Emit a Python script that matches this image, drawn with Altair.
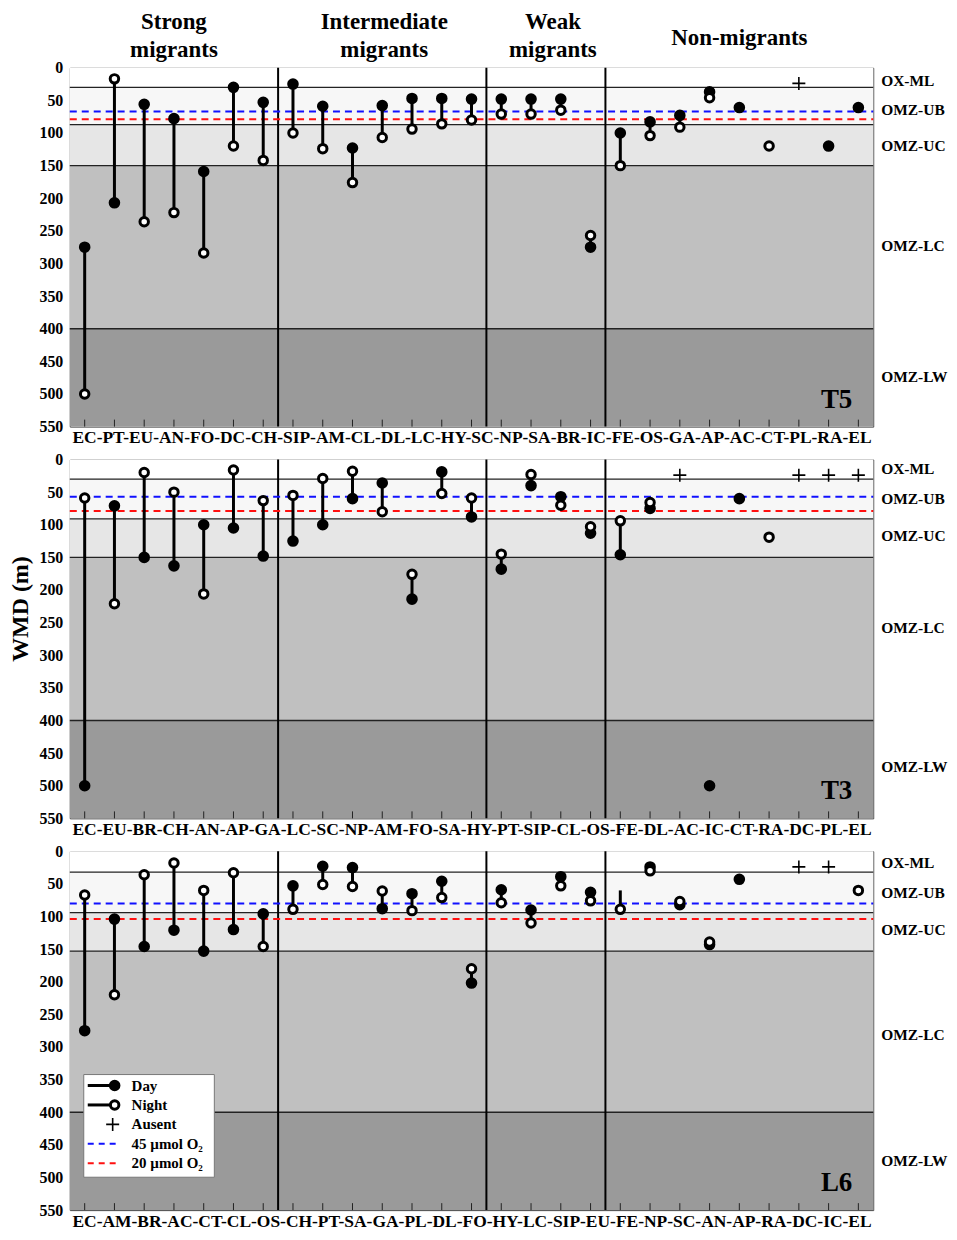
import altair as alt
import pandas as pd

FONT = "Liberation Serif"
W, H = 806, 360

# ---------------- data ----------------
group_titles = [["Strong", "migrants"], ["Intermediate", "migrants"], ["Weak", "migrants"], ["Non-migrants"]]
group_sizes = [7, 7, 4, 9]

zone_names = ["OX-ML", "OMZ-UB", "OMZ-UC", "OMZ-LC", "OMZ-LW"]
zone_colors = ["#ffffff", "#f7f7f7", "#e6e6e6", "#c0c0c0", "#9a9a9a"]
ausent_depth = 24

# T5
t5_cats = ["EC", "PT", "EU", "AN", "FO", "DC", "CH", "SIP", "AM", "CL", "DL", "LC", "HY", "SC",
           "NP", "SA", "BR", "IC", "FE", "OS", "GA", "AP", "AC", "CT", "PL", "RA", "EL"]
t5_day = [275, 207, 56, 78, 159, 30, 53, 25, 59, 123, 58, 47, 47, 48,
          48, 48, 48, 275, 100, 83, 73, 37, 61, None, None, 120, 61]
t5_night = [500, 17, 236, 222, 284, 120, 142, 100, 124, 176, 107, 94, 86, 80,
            71, 71, 65, 257, 150, 104, 91, 46, None, 120, None, None, None]
t5_ausent = ["PL"]
t5_zones = [0, 30, 87, 150, 400, 550]
t5_zone_label_depth = [20, 65, 120, 273, 474]
t5_o2_45, t5_o2_20 = 67, 79

# T3
t3_cats = ["EC", "EU", "BR", "CH", "AN", "AP", "GA", "LC", "SC", "NP", "AM", "FO", "SA", "HY",
           "PT", "SIP", "CL", "OS", "FE", "DL", "AC", "IC", "CT", "RA", "DC", "PL", "EL"]
t3_day = [500, 71, 150, 163, 100, 105, 148, 125, 100, 60, 36, 214, 19, 88,
          168, 40, 57, 113, 146, 75, None, 500, 60, None, None, None, None]
t3_night = [59, 221, 20, 50, 206, 16, 63, 55, 29, 18, 80, 176, 52, 59,
            145, 23, 70, 103, 94, 66, None, None, None, 119, None, None, None]
t3_ausent = ["AC", "DC", "PL", "EL"]
t3_zones = [0, 30, 91, 150, 400, 550]
t3_zone_label_depth = [15, 61, 118, 258, 471]
t3_o2_45, t3_o2_20 = 57, 79

# L6
l6_cats = ["EC", "AM", "BR", "AC", "CT", "CL", "OS", "CH", "PT", "SA", "GA", "PL", "DL", "FO",
           "HY", "LC", "SIP", "EU", "FE", "NP", "SC", "AN", "AP", "RA", "DC", "IC", "EL"]
l6_day = [275, 104, 146, 121, 153, 120, 96, 53, 23, 25, 88, 65, 46, 202,
          59, 90, 39, 63, 60, 24, 82, 143, 43, None, None, None, None]
l6_night = [67, 220, 36, 18, 60, 33, 146, 89, 51, 54, 61, 91, 71, 180,
            79, 110, 53, 76, 89, 30, 77, 139, None, None, None, None, 60]
l6_ausent = ["DC", "IC"]
l6_day_unmarked = ["FE"]
l6_zones = [0, 32, 94, 153, 400, 550]
l6_zone_label_depth = [18, 64, 120, 282, 475]
l6_o2_45, l6_o2_20 = 80, 104

legend_labels = ["Day", "Night", "Ausent", "45 \u00b5mol O\u2082", "20 \u00b5mol O\u2082"]

# ---------------- chart ----------------
yscale = alt.Scale(domain=[0, 550], reverse=True, nice=False, zero=False)
yaxis = alt.Axis(values=list(range(0, 551, 50)), title=None, ticks=False, domain=False,
                 grid=False, labelFont=FONT, labelFontSize=16, labelFontWeight="bold",
                 labelColor="black", labelPadding=7, format="d")
CROSS = "M-1,0L1,0M0,-1L0,1"
STEP = W / 27.0


def one(text, x, y, **kw):
    return alt.Chart(pd.DataFrame({"t": [text]})).mark_text(
        font=FONT, fontWeight="bold", color="black", **kw).encode(
        x=alt.value(x), y=alt.value(y), text="t:N")


def panel(cats, day, night, ausent, zones, zlab_depth, o2_45, o2_20, name,
          day_unmarked=(), titles=False, ytitle=False, legend=False):
    xs = alt.Scale(type="point", domain=cats, padding=0.5)
    xaxis = alt.Axis(title="-".join(cats), labels=False, ticks=False, domain=False,
                     grid=False, titleFont=FONT, titleFontSize=17.5,
                     titleFontWeight="bold", titleColor="black", titlePadding=2)
    X = alt.X("cat:N", scale=xs, axis=xaxis)

    def Y(f):
        return alt.Y(f, scale=yscale, axis=yaxis)

    df = pd.DataFrame({"cat": cats, "day": day, "night": night})
    df["mark_day"] = [c not in day_unmarked for c in cats]

    zdf = pd.DataFrame({"zone": zone_names, "lo": zones[:-1], "hi": zones[1:],
                        "color": zone_colors, "lab": zlab_depth})
    bands = alt.Chart(zdf).mark_rect().encode(
        x=alt.value(0), x2=alt.value(W), y=Y("lo:Q"), y2="hi:Q",
        fill=alt.Fill("color:N", scale=None))

    blines = alt.Chart(pd.DataFrame({"d": zones[1:-1]})).mark_rule(
        color="#222", strokeWidth=1.3).encode(y=Y("d:Q"), x=alt.value(0), x2=alt.value(W))

    idx, s = [], 0
    for g in group_sizes[:-1]:
        s += g
        idx.append(s - 1)
    seps = alt.Chart(pd.DataFrame({"cat": [cats[i] for i in idx]})).mark_rule(
        color="black", strokeWidth=2, xOffset=STEP / 2).encode(
        x=X, y=alt.value(0), y2=alt.value(H))

    o2 = alt.Chart(pd.DataFrame({"d": [o2_45, o2_20], "c": ["#1010ff", "#ff1010"]})).mark_rule(
        strokeDash=[7, 5], strokeWidth=2).encode(
        y=Y("d:Q"), x=alt.value(0), x2=alt.value(W), color=alt.Color("c:N", scale=None))

    ticks = alt.Chart(pd.DataFrame({"cat": cats})).mark_rule(color="#222", strokeWidth=1).encode(
        x=X, y=alt.value(H), y2=alt.value(H - 7))

    stems = alt.Chart(df).transform_filter(
        "isValid(datum.day) && isValid(datum.night)").mark_rule(
        color="black", strokeWidth=3).encode(x=X, y=Y("day:Q"), y2="night:Q")

    days = alt.Chart(df).transform_filter(
        "isValid(datum.day) && datum.mark_day").mark_point(
        shape="circle", filled=True, fill="black", stroke="black", strokeWidth=0,
        size=135, opacity=1).encode(x=X, y=Y("day:Q"))

    nights = alt.Chart(df).transform_filter("isValid(datum.night)").mark_point(
        shape="circle", filled=True, fill="white", stroke="black", strokeWidth=3,
        size=72, opacity=1).encode(x=X, y=Y("night:Q"))

    aus = alt.Chart(pd.DataFrame({"cat": ausent, "d": [ausent_depth] * len(ausent)})).mark_point(
        shape=CROSS, filled=False, stroke="black", strokeWidth=1.6, size=170, opacity=1).encode(
        x=X, y=Y("d:Q"))

    zlabels = alt.Chart(zdf).mark_text(
        align="left", baseline="middle", font=FONT, fontSize=15.5, fontWeight="bold",
        color="black").encode(x=alt.value(W + 8), y=Y("lab:Q"), text="zone:N")

    plabel = one(name, W - 21, 341, align="right", baseline="alphabetic", fontSize=27)

    layers = [bands, blines, seps, o2, ticks, stems, days, nights, aus, zlabels, plabel]

    if titles:
        start = 0
        nudge = [0, 2, 7, 0]
        for lines, g, n in zip(group_titles, group_sizes, nudge):
            cx = STEP / 2 + STEP * (start + (g - 1) / 2) + n
            y0 = -39 if len(lines) == 2 else -23
            for k, line in enumerate(lines):
                layers.append(one(line, cx, y0 + 28 * k, align="center",
                                  baseline="alphabetic", fontSize=23))
            start += g

    if ytitle:
        layers.append(one("WMD (m)", -49, 150, angle=270, align="center",
                          baseline="middle", fontSize=24))

    if legend:
        ly = [235 + 19.5 * i for i in range(len(legend_labels))]
        layers.append(alt.Chart(pd.DataFrame({"a": [0]})).mark_rect(
            fill="white", stroke="#777", strokeWidth=1).encode(
            x=alt.value(14), x2=alt.value(145), y=alt.value(224), y2=alt.value(327)))
        for i in range(2):
            layers.append(alt.Chart(pd.DataFrame({"a": [0]})).mark_rule(
                color="black", strokeWidth=3).encode(
                x=alt.value(18), x2=alt.value(44), y=alt.value(ly[i])))
        layers.append(alt.Chart(pd.DataFrame({"a": [0]})).mark_point(
            shape="circle", filled=True, fill="black", strokeWidth=0, size=135,
            opacity=1).encode(x=alt.value(45), y=alt.value(ly[0])))
        layers.append(alt.Chart(pd.DataFrame({"a": [0]})).mark_point(
            shape="circle", filled=True, fill="white", stroke="black", strokeWidth=3,
            size=72, opacity=1).encode(x=alt.value(45), y=alt.value(ly[1])))
        layers.append(alt.Chart(pd.DataFrame({"a": [0]})).mark_point(
            shape=CROSS, filled=False, stroke="black", strokeWidth=1.6, size=170,
            opacity=1).encode(x=alt.value(43), y=alt.value(ly[2])))
        for i, c in zip([3, 4], ["#1010ff", "#ff1010"]):
            layers.append(alt.Chart(pd.DataFrame({"a": [0]})).mark_rule(
                strokeDash=[6, 5], strokeWidth=2, color=c).encode(
                x=alt.value(18), x2=alt.value(51), y=alt.value(ly[i])))
        for lab, yy in zip(legend_labels, ly):
            layers.append(one(lab, 62, yy, align="left", baseline="middle", fontSize=15))

    return alt.layer(*layers).properties(width=W, height=H)


p1 = panel(t5_cats, t5_day, t5_night, t5_ausent, t5_zones, t5_zone_label_depth,
           t5_o2_45, t5_o2_20, "T5", titles=True)
p2 = panel(t3_cats, t3_day, t3_night, t3_ausent, t3_zones, t3_zone_label_depth,
           t3_o2_45, t3_o2_20, "T3", ytitle=True)
p3 = panel(l6_cats, l6_day, l6_night, l6_ausent, l6_zones, l6_zone_label_depth,
           l6_o2_45, l6_o2_20, "L6", day_unmarked=l6_day_unmarked, legend=True)

chart = alt.vconcat(p1, p2, p3, spacing=33, bounds="flush").resolve_scale(
    x="independent").configure_view(stroke="#444", strokeWidth=1).properties(
    padding={"left": 0, "top": 0, "right": 0, "bottom": 0}, background="white")

chart.save("out.html", embed_options={"renderer": "svg", "actions": False})
